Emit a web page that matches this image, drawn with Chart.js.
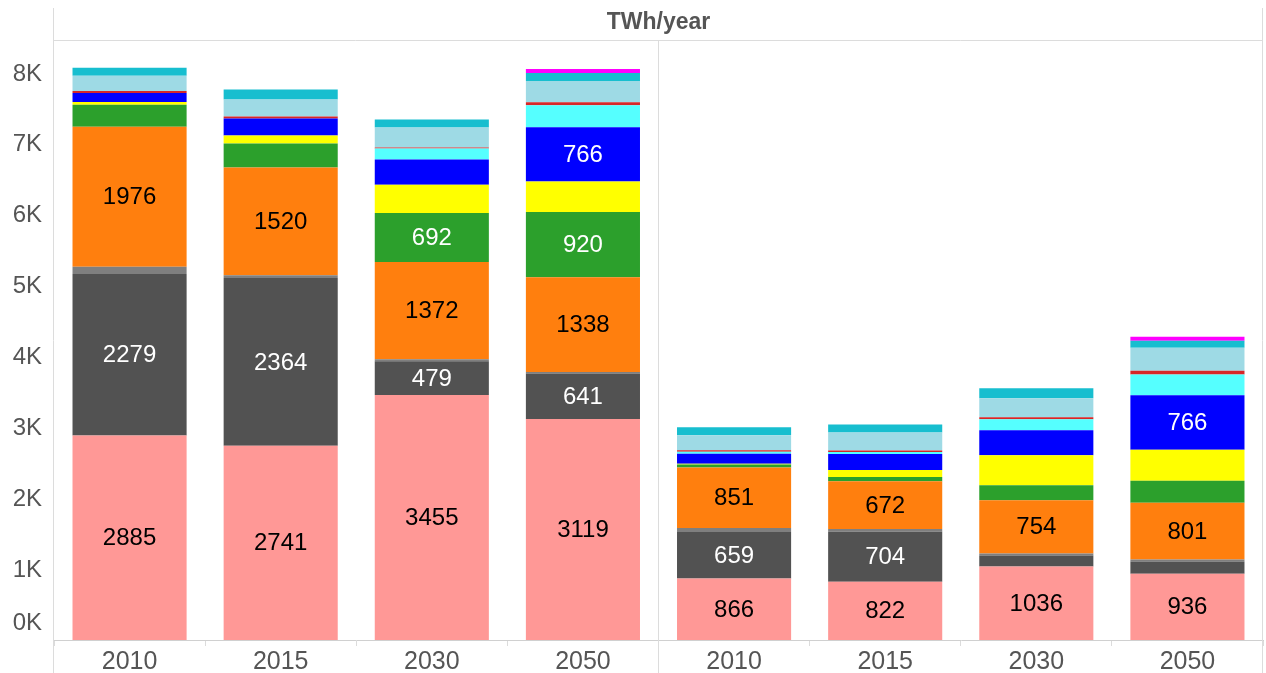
<!DOCTYPE html>
<html>
<head>
<meta charset="utf-8">
<script src="https://cdn.jsdelivr.net/npm/chart.js@4.4.1/dist/chart.umd.min.js"></script>
<style>
  body { margin: 0; background: #fff; }
  canvas { display: block; }
</style>
</head>
<body>
<canvas id="energy" width="1266" height="673"></canvas>
<script>
"use strict";

// categories (two panels of four years each)
var years = ['2010', '2015', '2030', '2050', '2010', '2015', '2030', '2050'];
var yTicks = [0, 1000, 2000, 3000, 4000, 5000, 6000, 7000, 8000];

// series values, TWh/year, bottom of the stack first
var nuclear   = [2885, 2741, 3455, 3119, 866, 822, 1036, 936];
var coal      = [2279, 2364, 479, 641, 659, 704, 155, 170];
var oil       = [100, 40, 25, 20, 56, 40, 28, 28];
var gas       = [1976, 1520, 1372, 1338, 851, 672, 754, 801];
var hydro     = [310, 340, 692, 920, 42, 60, 211, 310];
var solar     = [40, 113, 400, 430, 14, 100, 423, 440];
var wind      = [127, 240, 355, 766, 141, 226, 353, 766];
var offshore  = [0, 0, 155, 310, 28, 28, 155, 296];
var geo       = [28, 28, 14, 42, 20, 20, 28, 50];
var biomass   = [215, 240, 282, 300, 212, 254, 268, 325];
var waste     = [113, 141, 113, 113, 113, 113, 141, 99];
var other     = [0, 0, 0, 56, 0, 0, 0, 56];

var labelMin = 450;

function series(label, data, color, textColor) {
    return {
        label: label,
        data: data,
        backgroundColor: color,
        borderWidth: 0,
        textColor: textColor,
        categoryPercentage: 1.0,
        barPercentage: 0.755
    };
}

var datasets = [
    series('Nuclear', nuclear, '#ff9896', '#000'),
    series('Coal', coal, '#525252', '#fff'),
    series('Oil', oil, '#7f7f7f', '#fff'),
    series('Gas', gas, '#ff7f0e', '#000'),
    series('Hydro', hydro, '#2ca02c', '#fff'),
    series('Solar', solar, '#ffff00', '#000'),
    series('Wind', wind, '#0000ff', '#fff'),
    series('Offshore wind', offshore, '#55ffff', '#000'),
    series('Geothermal', geo, '#d62728', '#fff'),
    series('Biomass', biomass, '#9edae5', '#000'),
    series('Waste', waste, '#17becf', '#000'),
    series('Other', other, '#ff00ff', '#000')
];

var fontFamily = '"Liberation Sans", Arial, sans-serif';
var lineColor = '#dcdcdc';
var textGray = '#555555';

// frame lines: header box, left/right edges and the panel divider
var framePlugin = {
    id: 'frame',
    afterDraw: function (chart) {
        var ctx = chart.ctx;
        var area = chart.chartArea;
        var x = chart.scales.x;
        var mid = (x.getPixelForValue(3) + x.getPixelForValue(4)) / 2;
        var left = Math.round(area.left) - 0.5;
        var right = Math.round(area.right) - 0.5;
        mid = Math.round(mid) - 0.5;
        ctx.save();
        ctx.strokeStyle = lineColor;
        ctx.lineWidth = 1;
        ctx.beginPath();
        ctx.moveTo(left, 8);
        ctx.lineTo(left, chart.height);
        ctx.moveTo(right, 8);
        ctx.lineTo(right, chart.height);
        ctx.moveTo(mid, area.top);
        ctx.lineTo(mid, chart.height);
        ctx.moveTo(left, Math.round(area.top) - 0.5);
        ctx.lineTo(right, Math.round(area.top) - 0.5);
        ctx.stroke();
        ctx.restore();
    }
};

// y tick labels, bottom one lifted above the axis like the original
var yLabelPlugin = {
    id: 'yLabels',
    afterDraw: function (chart) {
        var ctx = chart.ctx;
        var y = chart.scales.y;
        ctx.save();
        ctx.font = '24px ' + fontFamily;
        ctx.fillStyle = textGray;
        ctx.textAlign = 'right';
        ctx.textBaseline = 'middle';
        yTicks.forEach(function (v) {
            var py = y.getPixelForValue(v) + 1;
            if (v === 0) py -= 18;
            ctx.fillText((v / 1000) + 'K', 42, py);
        });
        ctx.restore();
    }
};

// value labels inside the bigger segments
var valuePlugin = {
    id: 'values',
    afterDatasetsDraw: function (chart) {
        var ctx = chart.ctx;
        ctx.save();
        ctx.font = '24px ' + fontFamily;
        ctx.textAlign = 'center';
        ctx.textBaseline = 'middle';
        chart.data.datasets.forEach(function (ds, i) {
            var meta = chart.getDatasetMeta(i);
            meta.data.forEach(function (bar, j) {
                var v = ds.data[j];
                if (v < labelMin) return;
                ctx.fillStyle = ds.textColor;
                ctx.fillText(String(v), bar.x, (bar.y + bar.base) / 2 + 1);
            });
        });
        ctx.restore();
    }
};

var ctx = document.getElementById('energy');

var myChart = new Chart(ctx, {
    type: 'bar',
    data: {
        labels: years,
        datasets: datasets
    },
    options: {
        responsive: false,
        animation: false,
        layout: {
            padding: { left: 0, right: 3, top: 0, bottom: 0 }
        },
        plugins: {
            legend: { display: false },
            tooltip: { enabled: false },
            title: {
                display: true,
                text: 'TWh/year',
                fullSize: false,
                color: textGray,
                font: { family: fontFamily, size: 23, weight: 'bold', lineHeight: 1.2 },
                padding: { top: 9, bottom: 4.4 }
            }
        },
        scales: {
            x: {
                stacked: true,
                afterFit: function (s) { s.height = 33; },
                grid: {
                    offset: true,
                    drawOnChartArea: false,
                    color: lineColor,
                    tickLength: 6
                },
                border: { display: true, color: '#d0d0d0' },
                ticks: {
                    color: textGray,
                    padding: 1,
                    font: { family: fontFamily, size: 25 }
                }
            },
            y: {
                stacked: true,
                min: 0,
                max: 8450,
                afterFit: function (s) { s.width = 54; },
                grid: { display: false },
                border: { display: false },
                ticks: { display: false }
            }
        }
    },
    plugins: [framePlugin, yLabelPlugin, valuePlugin]
});
</script>
</body>
</html>
